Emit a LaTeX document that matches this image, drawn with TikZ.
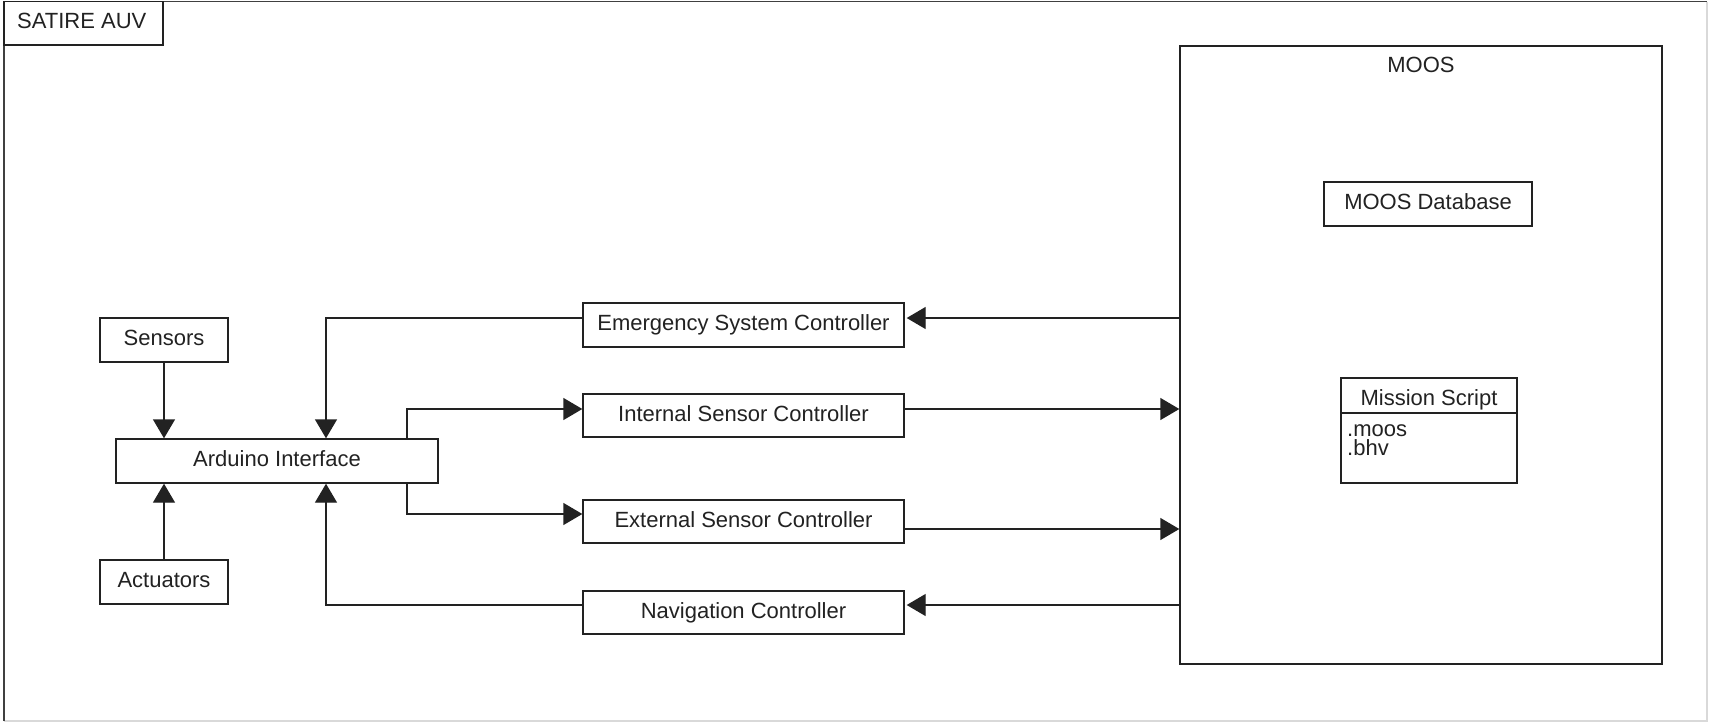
\documentclass[tikz,border=0pt]{standalone}
\usepackage{fontspec}
\setmainfont{Liberation Sans}
\usetikzlibrary{arrows.meta}
\definecolor{ink}{HTML}{222222}
\tikzset{
  box/.style={draw=ink, line width=1.4pt, rectangle, inner sep=0pt, text=ink,
    text height=16pt, text depth=5pt, font=\fontsize{22}{26}\selectfont},
  lbl/.style={inner sep=0pt, text=ink, font=\fontsize{22}{26}\selectfont},
  arr/.style={draw=ink, line width=1.4pt, -{Triangle[length=19pt,width=22pt]}},
  wire/.style={draw=ink, line width=1.4pt}
}
\begin{document}
\begin{tikzpicture}[x=1pt,y=-1pt]
\useasboundingbox (0,0) rectangle (1709,723);
\fill[white] (0,0) rectangle (1709,723);
% outer frame
\draw[gray!30, line width=1.2pt] (1707,1.5) -- (1707,721) -- (4,721);
\draw[black!75, line width=1.8pt] (4,721) -- (4,1.5) -- (1707,1.5);
\node[draw=ink, line width=1.4pt, minimum width=159pt, minimum height=43.5pt, inner sep=0pt] (tab) at (83.5,23.25) {};
\node[lbl, anchor=base west] (tabtxt) at (17,28) {SATIRE AUV};

% left column
\node[box, minimum width=128pt, minimum height=44pt] (sens) at (164,340) {Sensors};
\node[box, minimum width=322pt, minimum height=44pt] (ard) at (277,461) {Arduino Interface};
\node[box, minimum width=128pt, minimum height=44pt] (act) at (164,582) {Actuators};

% controllers
\node[box, minimum width=321pt, minimum height=44pt] (emg) at (743.5,325) {Emergency System Controller};
\node[box, minimum width=321pt, minimum height=43pt] (int) at (743.5,415.5) {Internal Sensor Controller};
\node[box, minimum width=321pt, minimum height=43pt] (ext) at (743.5,521.5) {External Sensor Controller};
\node[box, minimum width=321pt, minimum height=43pt] (nav) at (743.5,612.5) {Navigation Controller};

% MOOS
\node[draw=ink, line width=1.4pt, minimum width=482pt, minimum height=618pt, inner sep=0pt] (moos) at (1421,355) {};
\node[lbl, anchor=base] (moostxt) at (1421,72) {MOOS};
\node[box, minimum width=208pt, minimum height=44pt] (db) at (1428,204) {MOOS Database};
\node[draw=ink, line width=1.4pt, minimum width=176pt, minimum height=105pt, inner sep=0pt] (ms) at (1429,430.5) {};
\draw[wire] (ms.west |- 0,413) -- (ms.east |- 0,413);
\node[lbl, anchor=base] (mstitle) at (1429,405) {Mission Script};
\node[lbl, anchor=base west] (ms1) at (1347,436) {.moos};
\node[lbl, anchor=base west] (ms2) at (1347,455) {.bhv};

% connectors
\draw[arr] (sens.south) -- (sens.south |- ard.north);
\draw[arr] (act.north) -- (act.north |- ard.south);
\draw[arr] ([yshift=7pt]emg.west) -| ([xshift=49pt]ard.north);
\draw[arr] ([yshift=7.5pt]nav.west) -| ([xshift=49pt]ard.south);
\draw[arr] ([xshift=130pt]ard.north) |- ([yshift=6.5pt]int.west);
\draw[arr] ([xshift=130pt]ard.south) |- ([yshift=7.5pt]ext.west);

\coordinate (ie) at ([yshift=6.5pt]int.east);
\coordinate (ee) at ([yshift=-7.5pt]ext.east);
\coordinate (me) at ([yshift=7pt]emg.east);
\coordinate (ne) at ([yshift=7.5pt]nav.east);
\draw[arr] (ie) -- (ie -| moos.west);
\draw[arr] (ee) -- (ee -| moos.west);
\draw[arr] (me -| moos.west) -- ([xshift=2pt]me);
\draw[arr] (ne -| moos.west) -- ([xshift=2pt]ne);
\end{tikzpicture}
\end{document}
